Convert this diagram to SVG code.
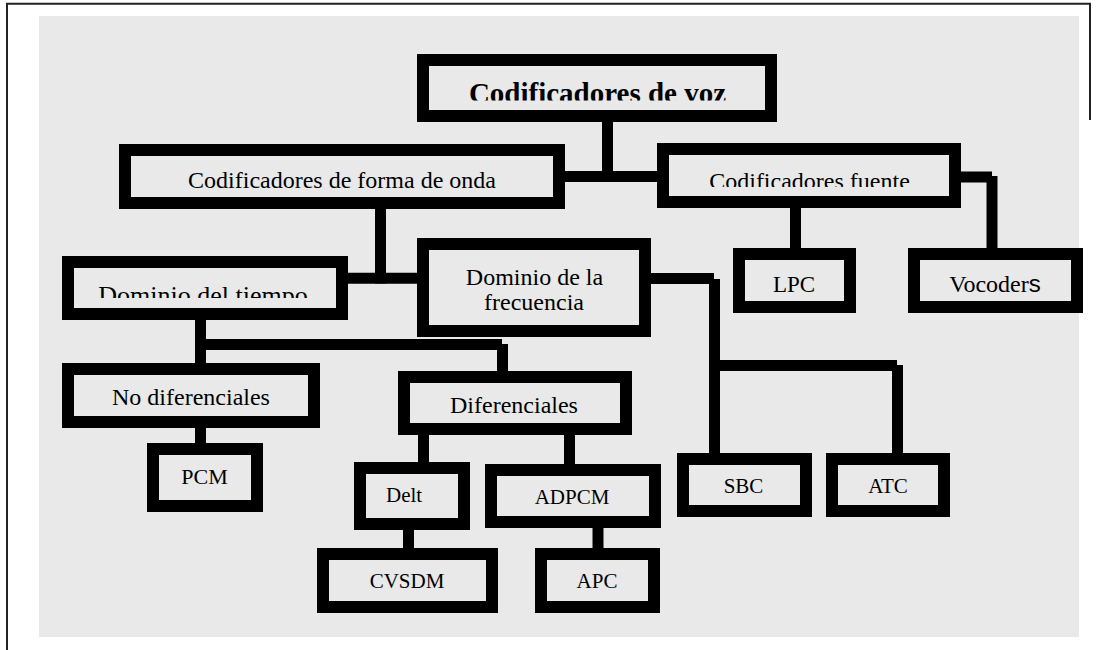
<svg xmlns="http://www.w3.org/2000/svg" width="1106" height="650" viewBox="0 0 1106 650">
<style>
.bg{fill:#e9e9e9}
.box{fill:#e9e9e9;stroke:#000;stroke-width:12}
.c{stroke:#000;stroke-width:11;fill:none}
.frame{stroke:#222;stroke-width:2;fill:none}
text{font-family:"Liberation Serif","Times New Roman",serif;fill:#000;text-anchor:middle}
.t24{font-size:24px}
.t21{font-size:21px}
</style>
<defs>
<clipPath id="clipVoz"><rect x="423" y="60" width="348" height="40.5"/></clipPath>
<clipPath id="clipFuente"><rect x="663" y="149" width="292" height="38"/></clipPath>
<clipPath id="clipTiempo"><rect x="68" y="262" width="274" height="36"/></clipPath>
</defs>
<rect width="1106" height="650" fill="#fff"/>
<path class="frame" d="M7,650 V3.7 H1090 V120"/>
<rect class="bg" x="39" y="16" width="1040" height="621"/>

<g id="connectors">
<line class="c" x1="607.5" y1="122" x2="607.5" y2="176.5"/>
<line class="c" x1="565" y1="176.5" x2="657" y2="176.5"/>
<line class="c" x1="961" y1="177" x2="992" y2="177"/>
<line class="c" x1="992" y1="176" x2="992" y2="248"/>
<line class="c" x1="795.5" y1="208" x2="795.5" y2="248"/>
<line class="c" x1="380.5" y1="209" x2="380.5" y2="283.5"/>
<line class="c" x1="348" y1="278.3" x2="417" y2="278.3"/>
<line class="c" x1="651" y1="278.5" x2="714" y2="278.5"/>
<line class="c" x1="714.5" y1="279" x2="714.5" y2="453"/>
<line class="c" x1="709" y1="365.5" x2="897" y2="365.5"/>
<line class="c" x1="897.5" y1="365" x2="897.5" y2="453"/>
<line class="c" x1="200.5" y1="320" x2="200.5" y2="363"/>
<line class="c" x1="200" y1="344.5" x2="502" y2="344.5"/>
<line class="c" x1="502.5" y1="344" x2="502.5" y2="371"/>
<line class="c" x1="200.5" y1="428" x2="200.5" y2="443"/>
<line class="c" x1="423.5" y1="435" x2="423.5" y2="462"/>
<line class="c" x1="569.5" y1="435" x2="569.5" y2="464"/>
<line class="c" x1="408.5" y1="530" x2="408.5" y2="548"/>
<line class="c" x1="598" y1="528" x2="598" y2="548"/>
</g>

<g id="n-voz">
<rect class="box" x="423" y="60" width="348" height="56"/>
<text x="597.5" y="103" font-size="29" font-weight="bold" clip-path="url(#clipVoz)">Codificadores de voz</text>
</g>
<g id="n-forma">
<rect class="box" x="125" y="150" width="434" height="53"/>
<text class="t24" x="342" y="188">Codificadores de forma de onda</text>
</g>
<g id="n-fuente">
<rect class="box" x="663" y="149" width="292" height="53"/>
<text class="t24" x="809.5" y="188.5" clip-path="url(#clipFuente)">Codificadores fuente</text>
</g>
<g id="n-tiempo">
<rect class="box" x="68" y="262" width="274" height="52"/>
<text x="203" y="304" font-size="26" clip-path="url(#clipTiempo)">Dominio del tiempo</text>
</g>
<g id="n-frecuencia">
<rect class="box" x="423" y="244" width="222" height="87"/>
<text class="t24" x="534.5" y="285">Dominio de la</text>
<text class="t24" x="534" y="310">frecuencia</text>
</g>
<g id="n-lpc">
<rect class="box" x="739" y="254" width="111" height="53"/>
<text x="794" y="292" font-size="23">LPC</text>
</g>
<g id="n-vocoders">
<rect class="box" x="914" y="254" width="163" height="53"/>
<text class="t24" x="995" y="292">Vocoder<tspan font-family="'Liberation Sans',Arial,sans-serif">s</tspan></text>
</g>
<g id="n-nodif">
<rect class="box" x="68" y="369" width="246" height="53"/>
<text class="t24" x="191" y="405">No diferenciales</text>
</g>
<g id="n-dif">
<rect class="box" x="404" y="377" width="222" height="52"/>
<text class="t24" x="514" y="413">Diferenciales</text>
</g>
<g id="n-pcm">
<rect class="box" x="153" y="449" width="104" height="57"/>
<text x="204.5" y="484" font-size="22">PCM</text>
</g>
<g id="n-delt">
<rect class="box" x="360" y="468" width="104" height="56"/>
<text class="t21" x="386" y="502" style="text-anchor:start">Delt</text>
</g>
<g id="n-adpcm">
<rect class="box" x="491" y="470" width="164" height="52"/>
<text class="t21" x="572" y="504">ADPCM</text>
</g>
<g id="n-cvsdm">
<rect class="box" x="323" y="554" width="169" height="53"/>
<text class="t21" x="407" y="588">CVSDM</text>
</g>
<g id="n-apc">
<rect class="box" x="541" y="554" width="113" height="53"/>
<text class="t21" x="597" y="588">APC</text>
</g>
<g id="n-sbc">
<rect class="box" x="683" y="459" width="123" height="52"/>
<text class="t21" x="743.5" y="493">SBC</text>
</g>
<g id="n-atc">
<rect class="box" x="832" y="459" width="112" height="52"/>
<text class="t21" x="888" y="493">ATC</text>
</g>
</svg>
